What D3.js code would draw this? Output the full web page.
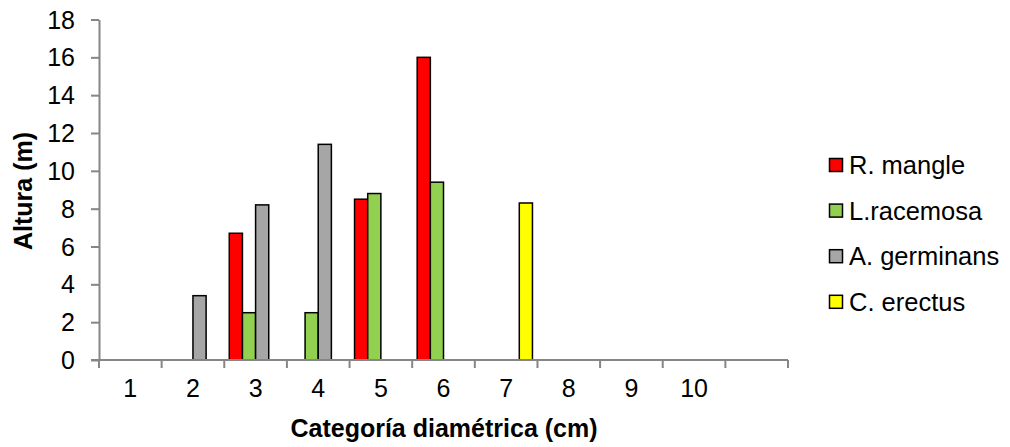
<!DOCTYPE html>
<html>
<head>
<meta charset="utf-8">
<script src="https://cdn.jsdelivr.net/npm/d3@7"></script>
<style>
  body { margin: 0; background: #fff; }
  text { font-family: "Liberation Sans", Arial, sans-serif; }
</style>
</head>
<body>
<svg id="chart" width="1010" height="447"></svg>
<script>
// categories (11 slots, last one has no label)
var categories = ["1", "2", "3", "4", "5", "6", "7", "8", "9", "10", ""];
var seriesNames = ["R. mangle", "L.racemosa", "A. germinans", "C. erectus"];
var seriesColors = ["#ff0000", "#92d050", "#a6a6a6", "#ffff00"];
// values per category, 0 = no bar
var rMangle     = [0, 0, 6.7, 0, 8.5, 16, 0, 0, 0, 0, 0];
var lRacemosa   = [0, 0, 2.5, 2.5, 8.8, 9.4, 0, 0, 0, 0, 0];
var aGerminans  = [0, 3.4, 8.2, 11.4, 0, 0, 0, 0, 0, 0, 0];
var cErectus    = [0, 0, 0, 0, 0, 0, 8.3, 0, 0, 0, 0];
var yTicks = [0, 2, 4, 6, 8, 10, 12, 14, 16, 18];

var seriesValues = [rMangle, lRacemosa, aGerminans, cErectus];

var AXIS_COLOR = "#868686";
var LEFT = 99, RIGHT = 788, TOP = 19.5, BOTTOM = 360;

var svg = d3.select("#chart");

var x = d3.scaleBand()
    .domain(d3.range(categories.length))
    .range([LEFT, RIGHT])
    .paddingInner(0)
    .paddingOuter(0);

var inner = d3.scaleBand()
    .domain(d3.range(seriesNames.length))
    .range([0, x.bandwidth()])
    .paddingOuter(0.38)
    .paddingInner(0);

var y = d3.scaleLinear()
    .domain([0, 18])
    .range([BOTTOM, TOP]);

//draw bars
seriesValues.forEach(function (vals, s) {
    svg.append("g")
        .attr("class", "series-" + s)
        .selectAll("rect")
        .data(vals.map(function (v, i) { return {v: v, i: i}; }).filter(function (d) { return d.v > 0; }))
        .enter().append("rect")
        .attr("x", function (d) { return x(d.i) + inner(s); })
        .attr("y", function (d) { return y(d.v); })
        .attr("width", inner.bandwidth())
        .attr("height", function (d) { return y(0) - y(d.v); })
        .style("fill", seriesColors[s])
        .style("stroke", "#000")
        .style("stroke-width", 1.5);
});

//y axis
var yAxis = svg.append("g")
    .attr("transform", "translate(" + LEFT + ",0)")
    .call(d3.axisLeft(y).tickValues(yTicks).tickSize(8).tickPadding(16).tickSizeOuter(0));
yAxis.select(".domain").style("stroke", AXIS_COLOR).style("stroke-width", 2);
yAxis.selectAll(".tick line").style("stroke", AXIS_COLOR).style("stroke-width", 2);
yAxis.selectAll(".tick text")
    .attr("dy", "0.34em")
    .style("font-size", "25px")
    .style("fill", "#000")
    .style("font-family", "Liberation Sans, Arial, sans-serif");

//x axis line and boundary ticks
svg.append("line")
    .style("stroke", AXIS_COLOR)
    .style("stroke-width", 2)
    .attr("x1", LEFT - 8)
    .attr("x2", RIGHT)
    .attr("y1", BOTTOM)
    .attr("y2", BOTTOM);
var bounds = d3.range(categories.length + 1);
svg.append("g").selectAll("line")
    .data(bounds)
    .enter().append("line")
    .style("stroke", AXIS_COLOR)
    .style("stroke-width", 2)
    .attr("x1", function (d) { return d < categories.length ? x(d) : RIGHT; })
    .attr("x2", function (d) { return d < categories.length ? x(d) : RIGHT; })
    .attr("y1", BOTTOM)
    .attr("y2", BOTTOM + 8);
svg.append("g").selectAll("text")
    .data(categories)
    .enter().append("text")
    .attr("x", function (d, i) { return x(i) + x.bandwidth() / 2; })
    .attr("y", 397)
    .style("text-anchor", "middle")
    .style("font-size", "25px")
    .text(function (d) { return d; });

//axis titles
svg.append("text")
    .attr("x", 444)
    .attr("y", 437)
    .style("text-anchor", "middle")
    .style("font-size", "25px")
    .style("font-weight", "bold")
    .text("Categoría diamétrica (cm)");
svg.append("text")
    .attr("transform", "translate(32,191) rotate(-90)")
    .style("text-anchor", "middle")
    .style("font-size", "25px")
    .style("font-weight", "bold")
    .text("Altura (m)");

//legend
var legend = svg.append("g").attr("transform", "translate(829,165)");
var items = legend.selectAll("g")
    .data(seriesNames)
    .enter().append("g")
    .attr("transform", function (d, i) { return "translate(0," + (i * 45.6) + ")"; });
items.append("rect")
    .attr("x", 0.5)
    .attr("y", -6.5)
    .attr("width", 13)
    .attr("height", 13)
    .style("fill", function (d, i) { return seriesColors[i]; })
    .style("stroke", "#000")
    .style("stroke-width", 1.5);
items.append("text")
    .attr("x", 20)
    .attr("y", 0)
    .attr("dy", "0.36em")
    .style("font-size", "25.5px")
    .text(function (d) { return d; });
</script>
</body>
</html>
